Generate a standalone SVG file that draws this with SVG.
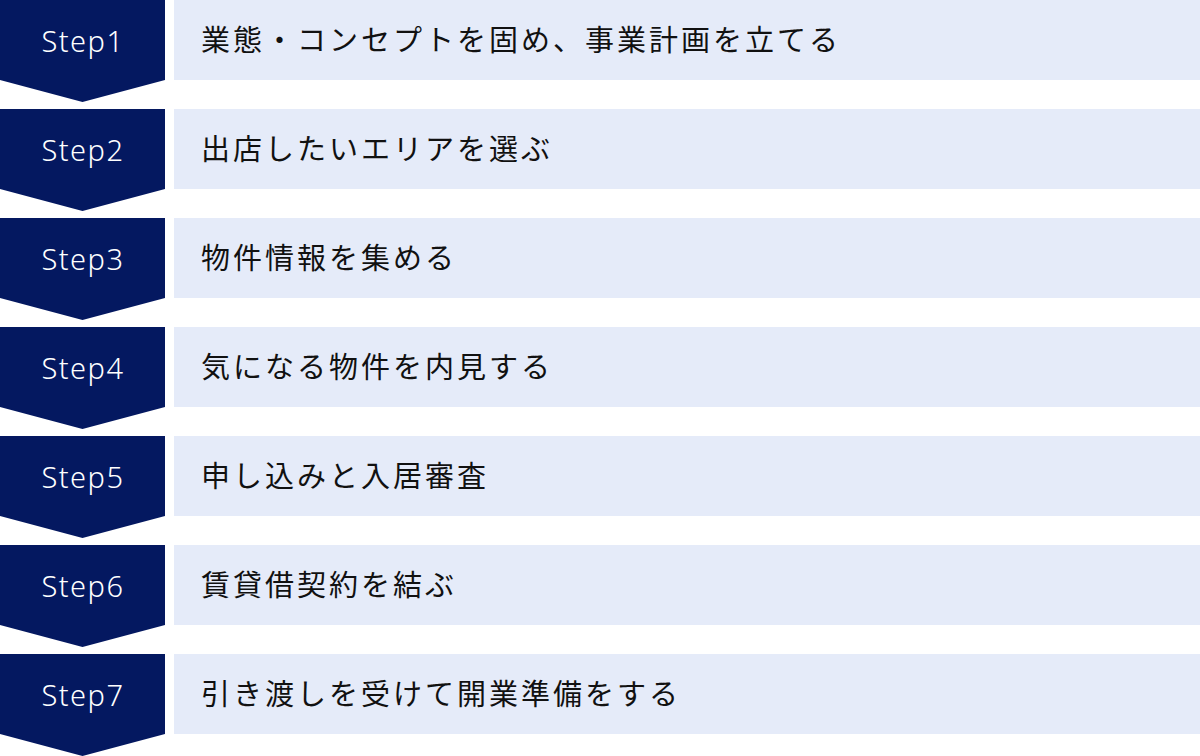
<svg xmlns="http://www.w3.org/2000/svg" width="1200" height="756" viewBox="0 0 1200 756">
<defs>
<style>
.chev{fill:#041860}
.bar{fill:#E5EBF9}
.step{font-family:"Noto Sans","Open Sans",sans-serif;font-size:29px;font-weight:300;fill:#ffffff;text-anchor:middle;letter-spacing:1.5px}
.lbl{font-family:"Noto Sans CJK JP","Noto Sans",sans-serif;font-size:29px;fill:#111111;letter-spacing:3px}
</style>
<path id="chevShape" d="M0 0H165V80L82.5 102L0 80Z"/>
</defs>
<rect width="1200" height="756" fill="#ffffff"/>
<g id="connectors"></g>
<g id="step1" transform="translate(0,0)">
<use href="#chevShape" class="chev"/><rect class="bar" x="174" y="0" width="1026" height="80"/>
<text class="step" x="83" y="52">Step1</text><text class="lbl" x="201" y="51">業態・コンセプトを固め、事業計画を立てる</text>
</g>
<g id="step2" transform="translate(0,109)">
<use href="#chevShape" class="chev"/><rect class="bar" x="174" y="0" width="1026" height="80"/>
<text class="step" x="83" y="52">Step2</text><text class="lbl" x="201" y="51">出店したいエリアを選ぶ</text>
</g>
<g id="step3" transform="translate(0,218)">
<use href="#chevShape" class="chev"/><rect class="bar" x="174" y="0" width="1026" height="80"/>
<text class="step" x="83" y="52">Step3</text><text class="lbl" x="201" y="51">物件情報を集める</text>
</g>
<g id="step4" transform="translate(0,327)">
<use href="#chevShape" class="chev"/><rect class="bar" x="174" y="0" width="1026" height="80"/>
<text class="step" x="83" y="52">Step4</text><text class="lbl" x="201" y="51">気になる物件を内見する</text>
</g>
<g id="step5" transform="translate(0,436)">
<use href="#chevShape" class="chev"/><rect class="bar" x="174" y="0" width="1026" height="80"/>
<text class="step" x="83" y="52">Step5</text><text class="lbl" x="201" y="51">申し込みと入居審査</text>
</g>
<g id="step6" transform="translate(0,545)">
<use href="#chevShape" class="chev"/><rect class="bar" x="174" y="0" width="1026" height="80"/>
<text class="step" x="83" y="52">Step6</text><text class="lbl" x="201" y="51">賃貸借契約を結ぶ</text>
</g>
<g id="step7" transform="translate(0,654)">
<use href="#chevShape" class="chev"/><rect class="bar" x="174" y="0" width="1026" height="80"/>
<text class="step" x="83" y="52">Step7</text><text class="lbl" x="201" y="51">引き渡しを受けて開業準備をする</text>
</g>
</svg>
